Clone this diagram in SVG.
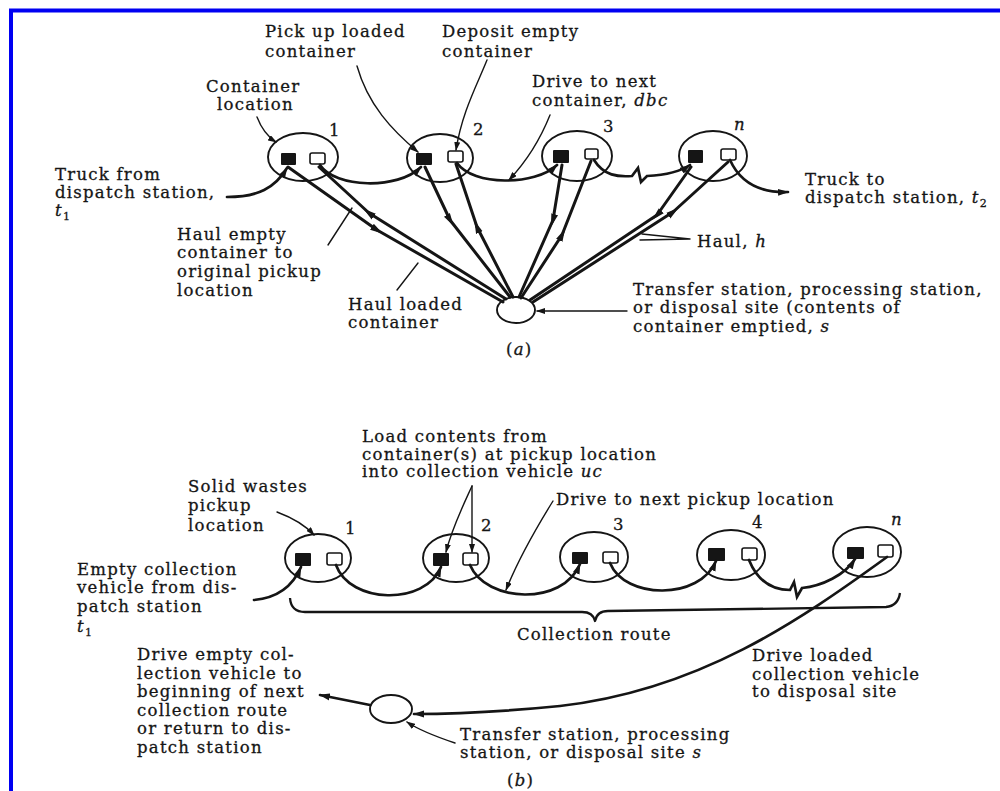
<svg xmlns="http://www.w3.org/2000/svg" width="1000" height="791" viewBox="0 0 1000 791">
<style>
  .t { font-family: "DejaVu Serif", "Liberation Serif", serif; font-size: 16.5px; letter-spacing: 1.25px; fill: #151515; stroke: #151515; stroke-width: 0.3; }
  .it { font-style: italic; }
  .sub { font-size: 11px; font-style: normal; }
  .loc { fill: none; stroke: #151515; stroke-width: 1.9; }
  .full { fill: #151515; }
  .empty { fill: #fff; stroke: #151515; stroke-width: 1.6; }
  .route { fill: none; stroke: #151515; stroke-width: 2.7; stroke-linecap: round; }
  .haul { fill: none; stroke: #151515; stroke-width: 3; stroke-linecap: round; stroke-linejoin: round; }
  .ptr { fill: none; stroke: #151515; stroke-width: 1.4; stroke-linecap: round; }
  .brace { fill: none; stroke: #151515; stroke-width: 2.3; stroke-linejoin: round; }
</style>
<defs>
  <marker id="arr" markerUnits="userSpaceOnUse" markerWidth="12" markerHeight="8" refX="10" refY="4" orient="auto">
    <path d="M0,0.5 L11,4 L0,7.5 z" fill="#151515"/>
  </marker>
  <marker id="arrS" markerUnits="userSpaceOnUse" markerWidth="9" markerHeight="6" refX="8" refY="3" orient="auto">
    <path d="M0,0 L9,3 L0,6 z" fill="#151515"/>
  </marker>
  <marker id="arrM" markerUnits="userSpaceOnUse" markerWidth="14" markerHeight="8" refX="6" refY="4" orient="auto">
    <path d="M0,0.5 L13,4 L0,7.5 z" fill="#151515"/>
  </marker>
</defs>

<rect width="1000" height="791" fill="#ffffff"/>
<path d="M11,791 V10.5 H1000" fill="none" stroke="#0000f2" stroke-width="4"/>

<!-- ===== (a) hauled container system ===== -->
<g id="a-loc1">
  <ellipse class="loc" cx="303" cy="157" rx="35" ry="24"/>
  <rect class="full" x="281" y="153" width="15" height="12" rx="1"/>
  <rect class="empty" x="310" y="153" width="15" height="11" rx="2"/>
  <text class="t" x="329" y="136">1</text>
</g>
<g id="a-loc2">
  <ellipse class="loc" cx="440" cy="158" rx="33" ry="24"/>
  <rect class="full" x="416" y="153" width="16" height="12" rx="1"/>
  <rect class="empty" x="448" y="151" width="15" height="11" rx="2"/>
  <text class="t" x="473" y="135">2</text>
</g>
<g id="a-loc3">
  <ellipse class="loc" cx="577" cy="156" rx="35" ry="25"/>
  <rect class="full" x="553" y="150" width="16" height="13" rx="1"/>
  <rect class="empty" x="585" y="149" width="13" height="10" rx="2"/>
  <text class="t" x="603" y="132">3</text>
</g>
<g id="a-locn">
  <ellipse class="loc" cx="713" cy="156" rx="34" ry="25"/>
  <rect class="full" x="688" y="150" width="15" height="13" rx="1"/>
  <rect class="empty" x="721" y="149" width="15" height="11" rx="2"/>
  <text class="t it" x="734" y="130">n</text>
</g>
<g id="a-site">
  <ellipse class="loc" cx="516" cy="310" rx="19" ry="13"/>
</g>

<g id="a-connectors">
  <!-- route between containers -->
  <path class="route" d="M227,197 C258,197 275,188 287,168" marker-end="url(#arr)"/>
  <path class="route" d="M320,165 C335,188 398,190 421,167" marker-end="url(#arr)"/>
  <path class="route" d="M457,163 C473,186 535,186 557,165" marker-end="url(#arr)"/>
  <path class="route" d="M594,160 C604,176 618,177 632,176 L638,168 L641,182 L647,176 C665,175 680,172 690,165" marker-end="url(#arr)"/>
  <path class="route" d="M730,160 C740,182 760,193 788,192" marker-end="url(#arr)"/>
  <!-- haul legs to and from the site -->
  <path class="haul" d="M288,167 L377,230 L503,302" marker-mid="url(#arrM)"/>
  <path class="haul" d="M506,299 L369,213 L319,167" marker-mid="url(#arrM)"/>
  <path class="haul" d="M425,167 L450,220 L510,297" marker-mid="url(#arrM)"/>
  <path class="haul" d="M513,297 L477,227 L456,164" marker-mid="url(#arrM)"/>
  <path class="haul" d="M562,165 L553,220 L519,297" marker-mid="url(#arrM)"/>
  <path class="haul" d="M521,298 L562,235 L591,161" marker-mid="url(#arrM)"/>
  <path class="haul" d="M691,167 L657,215 L530,300" marker-mid="url(#arrM)"/>
  <path class="haul" d="M533,302 L673,212 L728,162" marker-mid="url(#arrM)"/>
  <!-- label leaders -->
  <path class="ptr" d="M257,117 C262,130 268,137 276,142" marker-end="url(#arrS)"/>
  <path class="ptr" d="M357,66 C368,105 392,130 418,152" marker-end="url(#arrS)"/>
  <path class="ptr" d="M487,60 C477,85 462,112 456,150" marker-end="url(#arrS)"/>
  <path class="ptr" d="M550,115 C540,140 525,163 509,180" marker-end="url(#arrS)"/>
  <path class="ptr" d="M328,245 L352,208"/>
  <path class="ptr" d="M397,290 L418,263"/>
  <path class="ptr" d="M690,239 L642,234 M690,239 L640,240"/>
  <path class="ptr" d="M627,311 L537,311" marker-end="url(#arrS)"/>
</g>

<g id="a-labels">
  <text class="t" x="265" y="37">Pick up loaded</text>
  <text class="t" x="265" y="57">container</text>
  <text class="t" x="442" y="37">Deposit empty</text>
  <text class="t" x="442" y="57">container</text>
  <text class="t" x="206" y="92">Container</text>
  <text class="t" x="217" y="110">location</text>
  <text class="t" x="532" y="87">Drive to next</text>
  <text class="t" x="532" y="106">container, <tspan class="it">dbc</tspan></text>
  <text class="t" x="55" y="180">Truck from</text>
  <text class="t" x="55" y="198">dispatch station,</text>
  <text class="t it" x="55" y="216">t<tspan class="sub" dy="4">1</tspan></text>
  <text class="t" x="805" y="185">Truck to</text>
  <text class="t" x="805" y="203">dispatch station, <tspan class="it">t</tspan><tspan class="sub" dy="4">2</tspan></text>
  <text class="t" x="177" y="240">Haul empty</text>
  <text class="t" x="177" y="258">container to</text>
  <text class="t" x="177" y="277">original pickup</text>
  <text class="t" x="177" y="296">location</text>
  <text class="t" x="348" y="310">Haul loaded</text>
  <text class="t" x="348" y="328">container</text>
  <text class="t" x="697" y="247">Haul, <tspan class="it">h</tspan></text>
  <text class="t" x="633" y="295">Transfer station, processing station,</text>
  <text class="t" x="633" y="313">or disposal site (contents of</text>
  <text class="t" x="633" y="332">container emptied, <tspan class="it">s</tspan></text>
  <text class="t" x="506" y="355">(<tspan class="it">a</tspan>)</text>
</g>

<!-- ===== (b) stationary container system ===== -->
<g id="b-loc1">
  <ellipse class="loc" cx="318" cy="558" rx="33" ry="24"/>
  <rect class="full" x="295" y="553" width="16" height="13" rx="1"/>
  <rect class="empty" x="327" y="553" width="15" height="12" rx="2"/>
  <text class="t" x="345" y="534">1</text>
</g>
<g id="b-loc2">
  <ellipse class="loc" cx="456" cy="558" rx="33" ry="24"/>
  <rect class="full" x="433" y="553" width="16" height="13" rx="1"/>
  <rect class="empty" x="463" y="553" width="15" height="12" rx="2"/>
  <text class="t" x="481" y="531">2</text>
</g>
<g id="b-loc3">
  <ellipse class="loc" cx="594" cy="557" rx="34" ry="25"/>
  <rect class="full" x="572" y="552" width="16" height="12" rx="1"/>
  <rect class="empty" x="603" y="552" width="15" height="11" rx="2"/>
  <text class="t" x="613" y="530">3</text>
</g>
<g id="b-loc4">
  <ellipse class="loc" cx="731" cy="555" rx="34" ry="25"/>
  <rect class="full" x="708" y="548" width="17" height="13" rx="1"/>
  <rect class="empty" x="742" y="548" width="15" height="12" rx="2"/>
  <text class="t" x="752" y="528">4</text>
</g>
<g id="b-locn">
  <ellipse class="loc" cx="867" cy="552" rx="34" ry="25"/>
  <rect class="full" x="847" y="547" width="17" height="12" rx="1"/>
  <rect class="empty" x="878" y="545" width="15" height="12" rx="2"/>
  <text class="t it" x="891" y="525">n</text>
</g>
<g id="b-site">
  <ellipse class="loc" cx="391" cy="709" rx="21" ry="14"/>
</g>

<g id="b-connectors">
  <path class="route" d="M254,600 C276,598 292,588 301,567" marker-end="url(#arr)"/>
  <path class="route" d="M336,565 C350,604 425,606 441,567" marker-end="url(#arr)"/>
  <path class="route" d="M470,565 C486,603 563,606 580,564" marker-end="url(#arr)"/>
  <path class="route" d="M610,563 C625,600 700,600 716,561" marker-end="url(#arr)"/>
  <path class="route" d="M749,560 C758,582 772,590 790,590 L794,582 L797,597 L802,588 C822,586 845,575 855,559" marker-end="url(#arr)"/>
  <path class="route" d="M887,557 C800,620 700,690 560,706 C500,712 450,714 414,714" marker-end="url(#arr)"/>
  <path class="route" d="M370,705 L320,695" marker-end="url(#arr)"/>
  <!-- collection route brace -->
  <path class="brace" d="M290,598 Q291,612 305,612 L582,612 Q593,612 595,621 Q597,611 608,611 L886,607 Q898,606 900,593"/>
  <!-- label leaders -->
  <path class="ptr" d="M277,512 C293,518 306,526 314,535" marker-end="url(#arrS)"/>
  <path class="ptr" d="M472,486 C462,508 452,528 446,552" marker-end="url(#arrS)"/>
  <path class="ptr" d="M472,486 L472,552" marker-end="url(#arrS)"/>
  <path class="ptr" d="M553,501 C535,530 518,560 506,590" marker-end="url(#arrS)"/>
  <path class="ptr" d="M455,743 C437,737 419,730 407,722" marker-end="url(#arrS)"/>
</g>

<g id="b-labels">
  <text class="t" x="362" y="442">Load contents from</text>
  <text class="t" x="362" y="460">container(s) at pickup location</text>
  <text class="t" x="362" y="477">into collection vehicle <tspan class="it">uc</tspan></text>
  <text class="t" x="556" y="505">Drive to next pickup location</text>
  <text class="t" x="188" y="492">Solid wastes</text>
  <text class="t" x="188" y="511">pickup</text>
  <text class="t" x="188" y="531">location</text>
  <text class="t" x="77" y="575">Empty collection</text>
  <text class="t" x="77" y="593">vehicle from dis-</text>
  <text class="t" x="77" y="612">patch station</text>
  <text class="t it" x="77" y="632">t<tspan class="sub" dy="4">1</tspan></text>
  <text class="t" x="517" y="640">Collection route</text>
  <text class="t" x="752" y="661">Drive loaded</text>
  <text class="t" x="752" y="680">collection vehicle</text>
  <text class="t" x="752" y="697">to disposal site</text>
  <text class="t" x="460" y="740">Transfer station, processing</text>
  <text class="t" x="460" y="758">station, or disposal site <tspan class="it">s</tspan></text>
  <text class="t" x="137" y="660">Drive empty col-</text>
  <text class="t" x="137" y="679">lection vehicle to</text>
  <text class="t" x="137" y="697">beginning of next</text>
  <text class="t" x="137" y="716">collection route</text>
  <text class="t" x="137" y="734">or return to dis-</text>
  <text class="t" x="137" y="753">patch station</text>
  <text class="t" x="507" y="786">(<tspan class="it">b</tspan>)</text>
</g>
</svg>
